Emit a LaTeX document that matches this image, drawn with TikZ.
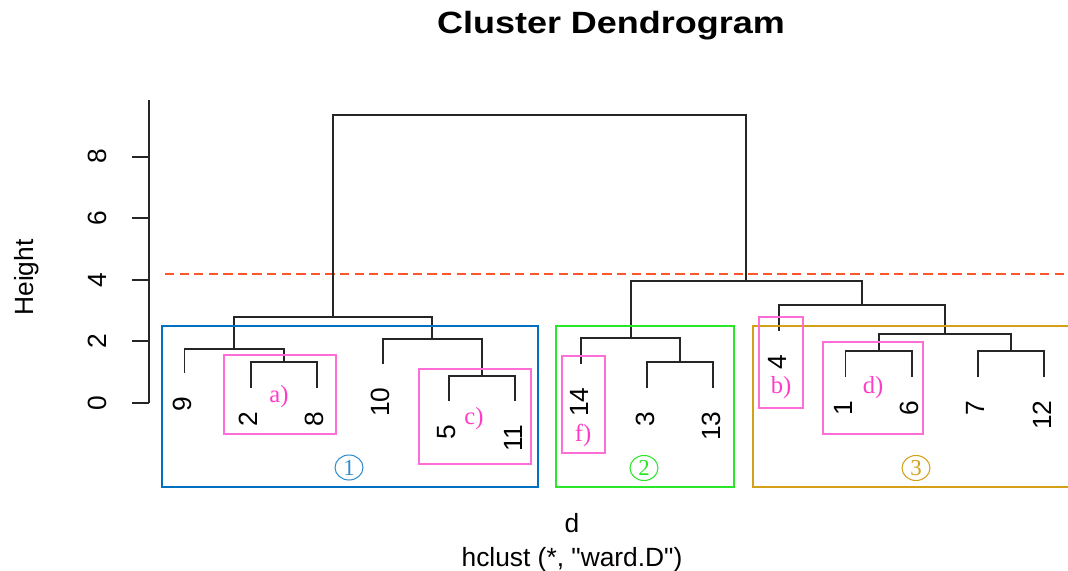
\documentclass[tikz,border=0pt]{standalone}
\usepackage{fontspec}
\setmainfont{Liberation Sans}
\newfontfamily\notefont{Liberation Serif}
\usetikzlibrary{shapes.geometric}

\definecolor{cutred}{RGB}{255,85,45}
\definecolor{clusterblue}{RGB}{0,112,192}
\definecolor{clustergreen}{RGB}{40,230,40}
\definecolor{clustergold}{RGB}{212,160,23}
\definecolor{notepink}{RGB}{255,60,200}

\tikzset{
  branch/.style={line width=1.1pt, draw=black!85},
  axisline/.style={line width=1.1pt, draw=black!85},
  plottext/.style={inner sep=0pt, font=\fontsize{15}{18}\selectfont},
  leaflab/.style={plottext, rotate=90, anchor=east},
  ticklab/.style={plottext, rotate=90, anchor=base},
  groupbox/.style={line width=1.2pt},
  notebox/.style={draw=notepink!75, line width=0.6pt},
  notelab/.style={text=notepink, inner sep=0pt, font=\notefont\fontsize{14}{16}\selectfont},
  groupnum/.style={ellipse, draw, line width=0.6pt, minimum width=0.56cm, minimum height=0.5cm,
    inner sep=0pt, font=\notefont\fontsize{13}{15}\selectfont}
}

\begin{document}
\begin{tikzpicture}[x=0.02cm, y=-0.02cm]
\useasboundingbox (0,0) rectangle (1068,571);

% captions
\node[anchor=base, inner sep=0pt, font=\bfseries\fontsize{17.5}{20}\selectfont] (title) at (611,34) {\scalebox{1.17}[1]{Cluster Dendrogram}};
\node[plottext, anchor=base] (dlab) at (572,532) {d};
\node[plottext, anchor=base] (method) at (572,566) {hclust (*, \textquotedbl ward.D\textquotedbl)};
\node[plottext, rotate=90, anchor=base] (ylab) at (33,277.5) {Height};

% axis
\draw[axisline] (149,100) -- (149,403);
\foreach \h in {0,2,4,6,8} {
  \draw[axisline] (132,{403-30.8*\h}) -- (149,{403-30.8*\h});
  \node[ticklab] (t\h) at (106,{403-30.8*\h}) {\h};
}

% cut height
\draw[cutred, line width=1pt, dash pattern=on 5.3pt off 3pt] (165,274) -- (1068,274);

% leaves
\foreach \lab/\x/\y in {9/184.5/373, 2/250.6/388, 8/316.7/388, 10/382.8/364, 5/448.9/401,
    11/515/401, 14/581.1/364, 3/647.2/388, 13/713.3/388, 4/779.4/331, 1/845.5/377,
    6/911.6/377, 7/977.7/377, 12/1043.8/377} {
  \coordinate (l\lab) at (\x,\y);
  \node[leaflab] (n\lab) at (\x-2,\y+23) {\lab};
}

% merges
\coordinate (m28) at (283.65,362);
\coordinate (m928) at (234.1,349);
\coordinate (m511) at (481.95,376);
\coordinate (m1011) at (432.4,339);
\coordinate (c1) at (333.25,317);
\coordinate (m313) at (680.25,362);
\coordinate (c2) at (630.7,338);
\coordinate (m16) at (878.55,351);
\coordinate (m712) at (1010.75,351);
\coordinate (m1612) at (944.65,334);
\coordinate (c3) at (862,305);
\coordinate (c23) at (746.35,281);
\coordinate (top) at (539.8,115);

\draw[branch] (l2) |- (m28) -| (l8);
\draw[branch] (l9) |- (m928) -| (m28);
\draw[branch] (l5) |- (m511) -| (l11);
\draw[branch] (l10) |- (m1011) -| (m511);
\draw[branch] (m928) |- (c1) -| (m1011);
\draw[branch] (l3) |- (m313) -| (l13);
\draw[branch] (l14) |- (c2) -| (m313);
\draw[branch] (l1) |- (m16) -| (l6);
\draw[branch] (l7) |- (m712) -| (l12);
\draw[branch] (m16) |- (m1612) -| (m712);
\draw[branch] (l4) |- (c3) -| (m1612);
\draw[branch] (c2) |- (c23) -| (c3);
\draw[branch] (c1) |- (top) -| (c23);

% clusters
\draw[groupbox, draw=clusterblue] (162,326) rectangle (538,487);
\draw[groupbox, draw=clustergreen] (556,326) rectangle (734,487);
\draw[groupbox, draw=clustergold] (1068,326) -| (753,487) -- (1068,487);
\node[groupnum, draw=clusterblue!80, text=clusterblue!80] (g1) at (349,467.5) {1};
\node[groupnum, draw=clustergreen, text=clustergreen] (g2) at (644,468) {2};
\node[groupnum, draw=clustergold, text=clustergold] (g3) at (916,468) {3};

% notes
\draw[notebox] (224,355) rectangle (336,434);
\draw[notebox] (419,369) rectangle (531,464);
\draw[notebox] (562,356) rectangle (605,453);
\draw[notebox] (759,317) rectangle (803,408);
\draw[notebox] (823,342) rectangle (923,434);
\node[notelab] (na) at (279,397) {a)};
\node[notelab] (nc) at (474,419) {c)};
\node[notelab] (nf) at (583,435) {f)};
\node[notelab] (nb) at (781,388) {b)};
\node[notelab] (nd) at (873,388) {d)};
\end{tikzpicture}
\end{document}
